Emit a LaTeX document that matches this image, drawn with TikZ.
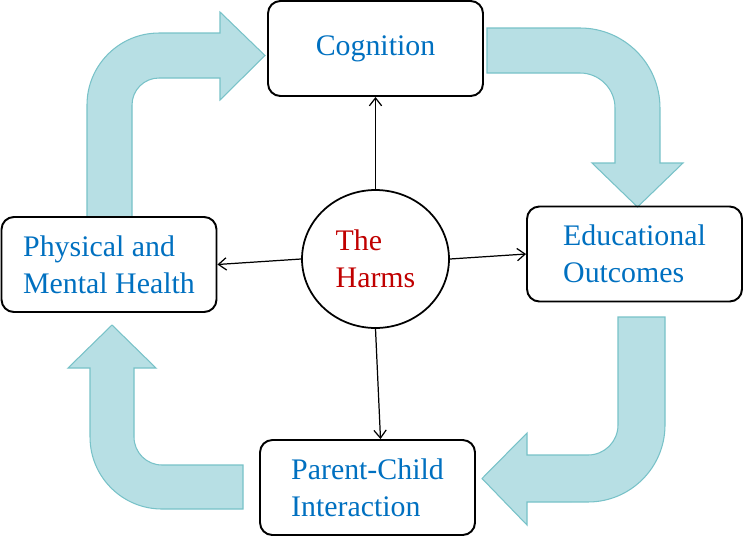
\documentclass[tikz,border=0pt]{standalone}
\usepackage{fontspec}
\setmainfont{Liberation Serif}
\usepackage{tikz}
\usetikzlibrary{arrows,arrows.meta,shapes,shapes.geometric,positioning}
\usepackage{xcolor}
\definecolor{hblue}{RGB}{0,112,192}
\definecolor{hred}{RGB}{192,0,0}
\definecolor{hfill}{RGB}{183,223,228}
\definecolor{hedge}{RGB}{120,194,200}
\tikzstyle{box} = [draw, rounded corners=7pt, line width=1.1pt, minimum width=4.3cm, minimum height=1.9cm, align=left, text=hblue, font=\fontsize{17}{21}\selectfont]
\tikzstyle{hub} = [draw, ellipse, line width=1pt, minimum width=2.94cm, minimum height=2.76cm, align=left, text=hred, font=\fontsize{17}{21}\selectfont]
\tikzstyle{cycarrow} = [fill=hfill, draw=hedge, line width=0.6pt]
\tikzstyle{link} = [-{Straight Barb[length=4.5pt,width=7pt]}, line width=0.7pt]

\begin{document}
\begin{tikzpicture}[x=0.02cm, y=-0.02cm]
\useasboundingbox (0,0) rectangle (750,538);

% Cycle arrows
\draw[cycarrow] (87,217) -- (87,105) arc[start angle=180, end angle=90, radius=1.44cm]
  -- (220,33) -- (220,12) -- (265,55.5) -- (220,100) -- (220,78) -- (159,78)
  arc[start angle=90, end angle=180, radius=0.54cm] -- (132,217) -- cycle;
\draw[cycarrow] (487,28) -- (580,28) arc[start angle=90, end angle=0, radius=1.6cm]
  -- (660,163) -- (683,163) -- (637.5,207) -- (592,163) -- (615,163) -- (615,108)
  arc[start angle=0, end angle=90, radius=0.7cm] -- (487,73) -- cycle;
\draw[cycarrow] (618,317) -- (665,317) -- (665,425) arc[start angle=0, end angle=-90, radius=1.54cm]
  -- (527,502) -- (527,525) -- (482,478.5) -- (527,433) -- (527,455) -- (588,455)
  arc[start angle=-90, end angle=0, radius=0.6cm] -- cycle;
\draw[cycarrow] (243,465) -- (243,509) -- (162,509) arc[start angle=-90, end angle=-180, radius=1.44cm]
  -- (90,368) -- (68,368) -- (112,325) -- (156,368) -- (134,368) -- (134,437)
  arc[start angle=180, end angle=270, radius=0.56cm] -- cycle;

% Nodes
\node[box] (cog) at (375.5,48.5) {Cognition};
\node[box] (edu) at (634.5,254) {Educational\\Outcomes};
\node[box] (phys) at (109,264.5) {Physical and\\Mental Health};
\node[box] (pc) at (367.5,487.5) {Parent-Child\\Interaction};
\node[hub] (harms) at (375.5,259) {The\\Harms};

% Links
\draw[link] (harms.north) -- (cog.south);
\draw[link] (harms.west) -- (phys.east);
\draw[link] (harms.east) -- (edu.west);
\draw[link] (harms.south) -- ([xshift=0.26cm]pc.north);
\end{tikzpicture}
\end{document}
